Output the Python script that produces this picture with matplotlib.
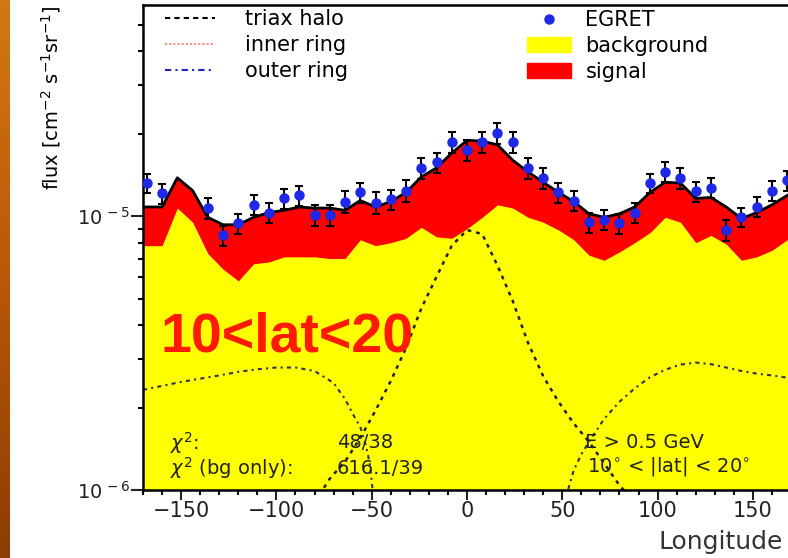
import matplotlib
matplotlib.use("Agg")
import numpy as np
import matplotlib.pyplot as plt
from matplotlib.lines import Line2D
from matplotlib.patches import Patch
from matplotlib.colors import LinearSegmentedColormap
from matplotlib.ticker import FixedLocator, FixedFormatter, NullFormatter, MultipleLocator

# model curves on the longitude grid (deg), flux in units of 1e-5
lon_model = [-170, -160, -152, -144, -136, -128, -120, -112, -104, -96, -88, -80, -72, -64,
             -56, -48, -40, -32, -24, -16, -8, 0, 8, 16, 24, 32, 40, 48, 56, 64, 72, 80,
             88, 96, 104, 112, 120, 128, 136, 144, 152, 160, 168, 170]
total_flux = [1.08, 1.08, 1.38, 1.24, 0.99, 0.93, 0.93, 0.99, 1.03, 1.05, 1.08, 1.07, 1.07, 1.05,
              1.14, 1.08, 1.13, 1.22, 1.39, 1.50, 1.70, 1.89, 1.88, 1.82, 1.60, 1.45, 1.33, 1.22,
              1.13, 1.02, 0.99, 1.02, 1.08, 1.22, 1.33, 1.32, 1.16, 1.17, 1.08, 0.98, 1.03, 1.10,
              1.19, 1.21]
bg_flux = [0.78, 0.78, 1.07, 0.95, 0.73, 0.64, 0.58, 0.67, 0.68, 0.71, 0.71, 0.71, 0.70, 0.70,
           0.82, 0.78, 0.80, 0.83, 0.91, 0.84, 0.83, 0.90, 0.99, 1.10, 1.07, 0.99, 0.95, 0.89,
           0.82, 0.72, 0.69, 0.74, 0.80, 0.87, 0.99, 0.95, 0.80, 0.85, 0.79, 0.69, 0.71, 0.75,
           0.82, 0.83]

# EGRET data points, flux and error in units of 1e-5
egret_lon = [-168, -160, -136, -128, -120, -112, -104, -96, -88, -80, -72, -64, -56, -48,
             -40, -32, -24, -16, -8, 0, 8, 16, 24, 32, 40, 48, 56, 64, 72, 80, 88, 96,
             104, 112, 120, 128, 136, 144, 152, 160, 168]
egret_flux = [1.32, 1.21, 1.07, 0.85, 0.94, 1.10, 1.03, 1.16, 1.19, 1.01, 1.01, 1.13, 1.22, 1.12,
              1.15, 1.24, 1.50, 1.57, 1.86, 1.74, 1.86, 2.01, 1.86, 1.50, 1.38, 1.22, 1.14, 0.95,
              0.97, 0.94, 1.03, 1.32, 1.45, 1.38, 1.23, 1.27, 0.89, 0.99, 1.08, 1.24, 1.35]
egret_err = [0.11, 0.10, 0.09, 0.07, 0.08, 0.09, 0.09, 0.10, 0.10, 0.09, 0.09, 0.10, 0.10, 0.10,
             0.10, 0.11, 0.13, 0.13, 0.16, 0.15, 0.16, 0.17, 0.16, 0.13, 0.12, 0.10, 0.10, 0.08,
             0.08, 0.08, 0.09, 0.11, 0.12, 0.12, 0.10, 0.11, 0.08, 0.08, 0.09, 0.10, 0.11]

# dark matter components, flux in units of 1e-6
halo_lon = [-80, -72, -64, -56, -48, -40, -32, -24, -16, -8, 0, 8, 16, 24, 32, 40, 48, 56,
            64, 72, 80, 88]
halo_flux = [0.90, 1.10, 1.27, 1.55, 1.95, 2.50, 3.30, 4.60, 6.00, 7.80, 8.90, 8.60, 6.60,
             4.90, 3.45, 2.60, 2.10, 1.75, 1.50, 1.25, 1.04, 0.90]
ring_lon_left = [-170, -160, -150, -140, -130, -120, -110, -100, -90, -80, -70, -64, -60, -56,
                 -53, -51, -49.5, -48]
ring_flux_left = [2.32, 2.40, 2.48, 2.55, 2.62, 2.70, 2.76, 2.80, 2.80, 2.72, 2.46, 2.15, 1.90,
                  1.70, 1.45, 1.25, 1.00, 0.80]
ring_lon_right = [48, 53, 56, 60, 64, 72, 80, 88, 96, 104, 112, 120, 128, 136, 144, 152, 160, 170]
ring_flux_right = [0.80, 1.00, 1.18, 1.35, 1.50, 1.82, 2.10, 2.35, 2.58, 2.75, 2.87, 2.92, 2.88,
                   2.80, 2.72, 2.66, 2.62, 2.56]

x_ticks = [-150, -100, -50, 0, 50, 100, 150]
y_major = [1e-6, 1e-5]
y_major_labels = [r"$10^{\,-6}$", r"$10^{\,-5}$"]
y_minor = [2e-6, 3e-6, 4e-6, 5e-6, 6e-6, 7e-6, 8e-6, 9e-6, 2e-5, 3e-5, 4e-5, 5e-5]

W, H = 788, 558
fig = plt.figure(figsize=(W / 100, H / 100), dpi=100)

# orange slide strip on the left
strip = fig.add_axes([0, 0, 10 / W, 1])
cm_strip = LinearSegmentedColormap.from_list("strip", ["#8e3c04", "#b85808", "#d27812"])
strip.imshow(np.linspace(0, 1, 100)[:, None], aspect="auto", cmap=cm_strip, origin="lower")
strip.axis("off")

ax = fig.add_axes([143 / W, 68 / H, 648 / W, 485 / H])

lm = np.array(lon_model)
ax.fill_between(lm, 1e-7, np.array(bg_flux) * 1e-5, color="#ffff00", lw=0)
ax.fill_between(lm, np.array(bg_flux) * 1e-5, np.array(total_flux) * 1e-5, color="#ff0000", lw=0)
ax.plot(lm, np.array(total_flux) * 1e-5, color="black", lw=2)

ax.plot(halo_lon, np.array(halo_flux) * 1e-6, color="#222222", lw=1.8, ls=(0, (1.5, 2)))
ax.plot(ring_lon_left, np.array(ring_flux_left) * 1e-6, color="#333355", lw=1.5, ls=(0, (2, 2, 1, 2)))
ax.plot(ring_lon_right, np.array(ring_flux_right) * 1e-6, color="#333355", lw=1.5, ls=(0, (2, 2, 1, 2)))

ax.errorbar(egret_lon, np.array(egret_flux) * 1e-5, yerr=np.array(egret_err) * 1e-5,
            fmt="o", color="#1e28e6", ms=6.5, ecolor="black", elinewidth=1.5, capsize=3,
            capthick=1.5, zorder=5)

ax.set_yscale("log")
ax.set_xlim(-170, 170)
ax.set_ylim(1e-6, 5.9e-5)

ax.xaxis.set_major_locator(FixedLocator(x_ticks))
ax.xaxis.set_minor_locator(MultipleLocator(10))
ax.yaxis.set_major_locator(FixedLocator(y_major))
ax.yaxis.set_major_formatter(FixedFormatter(y_major_labels))
ax.yaxis.set_minor_locator(FixedLocator(y_minor))
ax.yaxis.set_minor_formatter(NullFormatter())
ax.tick_params(which="major", direction="out", width=1.5, labelsize=15, colors="#222222")
ax.tick_params(axis="x", which="major", length=7, pad=1)
ax.tick_params(axis="y", which="major", length=9, pad=0, labelsize=14)
ax.tick_params(which="minor", direction="out", width=1.5, length=3.5)
for s in ax.spines.values():
    s.set_linewidth(1.8)

ax.set_ylabel(r"flux [cm$^{-2}$ s$^{-1}$sr$^{-1}$]", fontsize=14, loc="top", labelpad=10)
ax.set_xlabel("Longitude", fontsize=18, loc="right", color="#333333")
ax.xaxis.set_label_coords((783 - 143) / 648, -40 / 485)

h1 = [Line2D([], [], color="black", lw=1.5, ls=(0, (2.5, 2))),
      Line2D([], [], color="#ff8c8c", lw=1.5, ls=(0, (1, 1))),
      Line2D([], [], color="#2020c0", lw=1.5, ls=(0, (3, 2, 1, 2)))]
leg1 = ax.legend(h1, ["triax halo", "inner ring", "outer ring"], loc="upper left",
                 bbox_to_anchor=(165 / W, 1 - 9 / H), bbox_transform=fig.transFigure,
                 frameon=False, fontsize=15, handlelength=2.4, handletextpad=1.45,
                 labelspacing=0.29, borderpad=0, borderaxespad=0)
ax.add_artist(leg1)
h2 = [Line2D([], [], marker="o", color="#1e28e6", ls="none", ms=6.5),
      Patch(color="#ffff00"), Patch(color="#ff0000")]
ax.legend(h2, ["EGRET", "background", "signal"], loc="upper left",
          bbox_to_anchor=(527 / W, 1 - 10 / H), bbox_transform=fig.transFigure,
          frameon=False, fontsize=15, handlelength=2.1, handleheight=0.75,
          handletextpad=0.7, labelspacing=0.29, borderpad=0, borderaxespad=0)

fig.text(160 / W, 1 - 351 / H, "10<lat<20", color="#ff1a00", fontsize=40, fontweight="bold",
         family=["Liberation Sans", "DejaVu Sans"], va="baseline", ha="left")

tc = "#222222"
fig.text(170 / W, 1 - 443 / H, r"$\chi^2$:", fontsize=14, color=tc, va="center")
fig.text(170 / W, 1 - 468 / H, r"$\chi^2$ (bg only):", fontsize=14, color=tc, va="center")
fig.text(337 / W, 1 - 443 / H, "48/38", fontsize=14, color=tc, va="center")
fig.text(337 / W, 1 - 468 / H, "616.1/39", fontsize=14, color=tc, va="center")
fig.text(585 / W, 1 - 443 / H, "E > 0.5 GeV", fontsize=14, color=tc, va="center")
fig.text(587 / W, 1 - 466 / H, "10$^{\\circ}$ < |lat| < 20$^{\\circ}$", fontsize=14, color=tc, va="center")

fig.savefig("out.png", dpi=100)
